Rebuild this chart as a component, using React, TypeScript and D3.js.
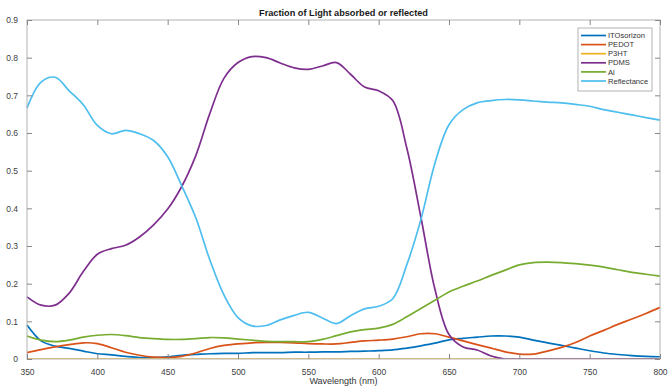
import React, { useEffect, useRef } from 'react';
import * as d3 from 'd3';

// wavelength grid (nm)
const wavelengths = [
	350, 360, 370, 380, 390, 400, 410, 420, 430, 440, 450, 460, 470, 480, 490,
	500, 510, 520, 530, 540, 550, 560, 570, 580, 590, 600, 610, 620, 630, 640,
	650, 660, 670, 680, 690, 700, 710, 720, 730, 740, 750, 760, 770, 780, 790,
	800,
];

const itoSorizon = [
	0.09, 0.048, 0.034, 0.028, 0.021, 0.014, 0.011, 0.007, 0.004, 0.004, 0.006,
	0.01, 0.012, 0.014, 0.015, 0.015, 0.017, 0.017, 0.017, 0.018, 0.018, 0.019,
	0.019, 0.02, 0.021, 0.022, 0.024, 0.029, 0.035, 0.042, 0.051, 0.055, 0.058,
	0.061, 0.061, 0.058, 0.05, 0.043, 0.036, 0.029, 0.022, 0.016, 0.012, 0.009,
	0.007, 0.006,
];

const pedot = [
	0.017, 0.025, 0.032, 0.038, 0.043, 0.041, 0.03, 0.018, 0.01, 0.005, 0.004,
	0.007, 0.016, 0.028, 0.036, 0.04, 0.043, 0.044, 0.044, 0.043, 0.041, 0.04,
	0.04, 0.044, 0.048, 0.05, 0.053, 0.059, 0.067, 0.067, 0.058, 0.048, 0.038,
	0.029, 0.019, 0.013, 0.013, 0.021, 0.031, 0.044, 0.061, 0.076, 0.092, 0.106,
	0.121, 0.137,
];

const p3ht = [
	0, 0, 0, 0, 0, 0, 0, 0, 0, 0, 0, 0, 0, 0, 0, 0, 0, 0, 0, 0, 0, 0, 0, 0, 0,
	0, 0, 0, 0, 0, 0, 0, 0, 0, 0, 0, 0, 0, 0, 0, 0, 0, 0, 0, 0, 0,
];

const pdms = [
	0.165, 0.143, 0.143, 0.175, 0.232, 0.278, 0.293, 0.302, 0.324, 0.356, 0.398,
	0.458, 0.54, 0.652, 0.745, 0.787, 0.803, 0.8, 0.786, 0.773, 0.769, 0.778,
	0.787, 0.756, 0.722, 0.712, 0.686, 0.56, 0.377, 0.185, 0.065, 0.032, 0.024,
	0.008, 0, 0, 0, 0, 0, 0, 0, 0, 0, 0, 0, 0,
];

const al = [
	0.061, 0.05, 0.046, 0.05, 0.058, 0.063, 0.065, 0.062, 0.057, 0.054, 0.052,
	0.052, 0.054, 0.057, 0.056, 0.053, 0.05, 0.047, 0.046, 0.046, 0.046, 0.052,
	0.062, 0.072, 0.078, 0.082, 0.092, 0.112, 0.134, 0.156, 0.178, 0.193, 0.207,
	0.222, 0.236, 0.25, 0.256, 0.257, 0.256, 0.253, 0.249, 0.244, 0.237, 0.23,
	0.225, 0.22,
];

const reflectance = [
	0.666, 0.735, 0.748, 0.712, 0.675, 0.62, 0.598, 0.607, 0.598, 0.58, 0.537,
	0.46, 0.375, 0.263, 0.17, 0.11, 0.088, 0.089, 0.104, 0.116, 0.124, 0.109,
	0.094, 0.115, 0.133, 0.14, 0.16, 0.25, 0.37, 0.52, 0.622, 0.662, 0.68,
	0.686, 0.689, 0.688, 0.685, 0.682, 0.68, 0.676, 0.671, 0.662, 0.655, 0.648,
	0.641, 0.634,
];

const seriesNames = ['ITOsorizon', 'PEDOT', 'P3HT', 'PDMS', 'Al', 'Reflectance'];
const seriesValues = [itoSorizon, pedot, p3ht, pdms, al, reflectance];
const seriesColors = ['#0072BD', '#D95319', '#EDB120', '#7E2F8E', '#77AC30', '#4DBEEE'];

const xTicks = [350, 400, 450, 500, 550, 600, 650, 700, 750, 800];
const yTicks = [0, 0.1, 0.2, 0.3, 0.4, 0.5, 0.6, 0.7, 0.8, 0.9];

const FONT = "'Liberation Sans', Arial, Helvetica, sans-serif";

export default function App() {
	const svgRef = useRef<SVGSVGElement | null>(null);

	useEffect(() => {
		const el = svgRef.current;
		if (!el) return;
		d3.select(el).selectAll('*').remove();

		const W = 671;
		const H = 388;
		const margin = { top: 20, right: 11, bottom: 29, left: 27 };
		const width = W - margin.left - margin.right;
		const height = H - margin.top - margin.bottom;

		const svg = d3.select(el);
		svg.append('rect').attr('width', W).attr('height', H).attr('fill', '#fff');

		const g = svg
			.append('g')
			.attr('transform', `translate(${margin.left},${margin.top})`);

		const x = d3.scaleLinear().domain([350, 800]).range([0, width]);
		const y = d3.scaleLinear().domain([0, 0.9]).range([height, 0]);

		svg
			.append('defs')
			.append('clipPath')
			.attr('id', 'plot-clip')
			.append('rect')
			.attr('x', -1)
			.attr('y', -1)
			.attr('width', width + 2)
			.attr('height', height + 1);

		// Lines
		const line = d3
			.line<number>()
			.x((_, i) => x(wavelengths[i]))
			.y((d) => y(d))
			.curve(d3.curveCatmullRom.alpha(0.5));

		const lines = g.append('g').attr('clip-path', 'url(#plot-clip)');
		seriesValues.forEach((vals, k) => {
			lines
				.append('path')
				.datum(vals)
				.attr('fill', 'none')
				.attr('stroke', seriesColors[k])
				.attr('stroke-width', 1.7)
				.attr('stroke-linejoin', 'round')
				.attr('d', line);
		});

		// Box
		const axisColor = '#b3b3b3';
		g.append('rect')
			.attr('x', 0)
			.attr('y', 0)
			.attr('width', width)
			.attr('height', height)
			.attr('fill', 'none')
			.attr('stroke', axisColor)
			.attr('stroke-width', 1);

		// Axes (inward ticks, box on)
		const tickLen = 5;
		const styleAxis = (a: d3.Selection<SVGGElement, unknown, null, undefined>) => {
			a.select('.domain').remove();
			a.selectAll('.tick line').attr('stroke', '#888');
			a.selectAll('.tick text')
				.attr('fill', '#404040')
				.style('font-family', FONT)
				.style('font-size', '8.5px');
		};

		const xAxis = g
			.append('g')
			.attr('transform', `translate(0,${height})`)
			.call(
				d3
					.axisBottom(x)
					.tickValues(xTicks)
					.tickSize(-tickLen)
					.tickPadding(10)
					.tickFormat(d3.format('d'))
			);
		styleAxis(xAxis);

		const xTop = g.append('g').call(
			d3.axisTop(x).tickValues(xTicks).tickSize(-tickLen).tickFormat(() => '')
		);
		styleAxis(xTop);

		const yAxis = g.append('g').call(
			d3
				.axisLeft(y)
				.tickValues(yTicks)
				.tickSize(-tickLen)
				.tickPadding(9)
				.tickFormat((d) => (d === 0 ? '0' : d3.format('.1f')(d as number)))
		);
		styleAxis(yAxis);

		const yRight = g
			.append('g')
			.attr('transform', `translate(${width},0)`)
			.call(
				d3.axisRight(y).tickValues(yTicks).tickSize(-tickLen).tickFormat(() => '')
			);
		styleAxis(yRight);

		// Title & label
		svg.append('text')
			.attr('x', margin.left + width / 2)
			.attr('y', 16)
			.attr('text-anchor', 'middle')
			.attr('fill', '#1a1a1a')
			.style('font-family', FONT)
			.style('font-weight', 'bold')
			.style('font-size', '9.2px')
			.text('Fraction of Light absorbed or reflected');

		svg.append('text')
			.attr('x', margin.left + width / 2)
			.attr('y', 384)
			.attr('text-anchor', 'middle')
			.attr('fill', '#333')
			.style('font-family', FONT)
			.style('font-size', '9px')
			.text('Wavelength (nm)');

		// Legend
		const lg = svg.append('g').attr('transform', 'translate(578,28)');
		lg.append('rect')
			.attr('width', 74)
			.attr('height', 63)
			.attr('fill', '#fff')
			.attr('stroke', '#a0a0a0')
			.attr('stroke-width', 0.8);
		seriesNames.forEach((name, k) => {
			const yy = 7.5 + k * 9.1;
			lg.append('line')
				.attr('x1', 3)
				.attr('x2', 28)
				.attr('y1', yy)
				.attr('y2', yy)
				.attr('stroke', seriesColors[k])
				.attr('stroke-width', 1.7);
			lg.append('text')
				.attr('x', 30)
				.attr('y', yy)
				.attr('dy', '0.35em')
				.attr('fill', '#333')
				.style('font-family', FONT)
				.style('font-size', '7.6px')
				.text(name);
		});
	}, []);

	return (
		<svg
			ref={svgRef}
			width={671}
			height={388}
			style={{ position: 'absolute', left: 0, top: 0, display: 'block' }}
		/>
	);
}
